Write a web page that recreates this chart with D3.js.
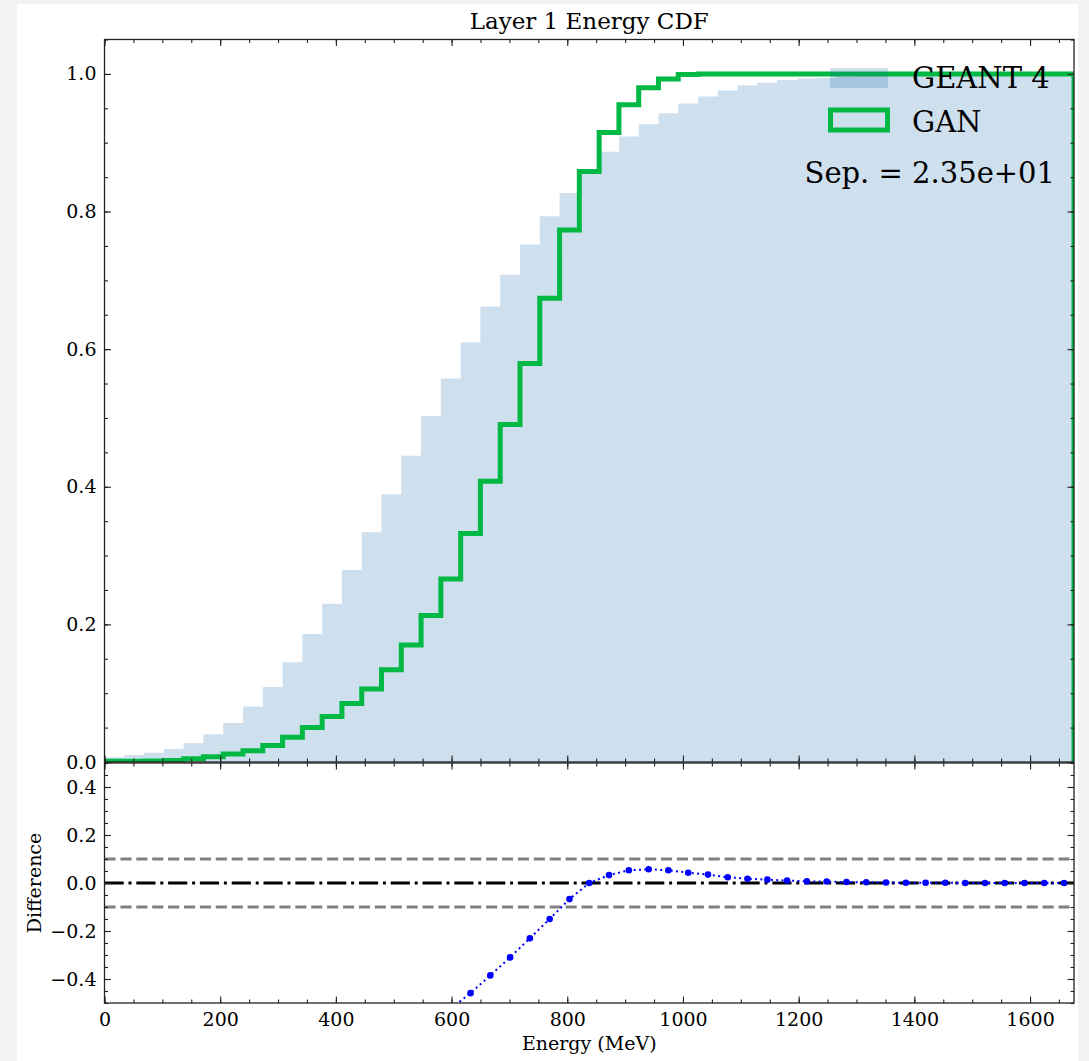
<!DOCTYPE html>
<html>
<head>
<meta charset="utf-8">
<script src="https://cdn.jsdelivr.net/npm/d3@7"></script>
<style>
  html, body { margin: 0; padding: 0; background: #f2f2f2; }
  svg { display: block; }
  text { font-family: "DejaVu Serif", serif; fill: #000; }
</style>
</head>
<body>
<svg class="canvas" width="1089" height="1061"></svg>
<script>
"use strict";

// histogram range (MeV) and number of equal bins
const energyMax = 1676;
const nBins = 49;

// cumulative fraction per bin
const geant4Cdf = [
  0.0068, 0.0102, 0.0135, 0.0189, 0.0272, 0.0403, 0.0568, 0.0805, 0.109, 0.145,
  0.186, 0.230, 0.279, 0.334, 0.389, 0.445, 0.503, 0.5575, 0.610, 0.662,
  0.708, 0.752, 0.793, 0.827, 0.858, 0.887, 0.909, 0.927, 0.943, 0.957,
  0.967, 0.976, 0.983, 0.987, 0.991, 0.993, 0.994, 0.996, 0.997, 0.998,
  0.999, 0.999, 0.999, 1.0, 1.0, 1.0, 1.0, 1.0, 1.0
];
const ganCdf = [
  0.001, 0.0012, 0.0015, 0.002, 0.0048, 0.0078, 0.0116, 0.0165, 0.0238, 0.036,
  0.050, 0.066, 0.085, 0.106, 0.134, 0.170, 0.213, 0.266, 0.332, 0.408,
  0.4906, 0.579, 0.674, 0.773, 0.858, 0.915, 0.955, 0.980, 0.9927, 0.999,
  1.0, 1.0, 1.0, 1.0, 1.0, 1.0, 1.0, 1.0, 1.0, 1.0,
  1.0, 1.0, 1.0, 1.0, 1.0, 1.0, 1.0, 1.0, 1.0
];
// relative difference per bin (GAN vs GEANT 4)
const difference = [
  -0.78, -0.85, -0.89, -0.92, -0.82, -0.81, -0.80, -0.80, -0.78, -0.75,
  -0.73, -0.71, -0.70, -0.68, -0.66, -0.62, -0.58, -0.523, -0.459, -0.385,
  -0.31, -0.23, -0.15, -0.067, 0.0, 0.033, 0.053, 0.057, 0.053, 0.043,
  0.035, 0.024, 0.018, 0.014, 0.010, 0.007, 0.006, 0.004, 0.003, 0.002,
  0.001, 0.001, 0.001, 0.0, 0.0, 0.0, 0.0, 0.0, 0.0
];

const xTicks = [0, 200, 400, 600, 800, 1000, 1200, 1400, 1600];
const yTicksTop = [0.0, 0.2, 0.4, 0.6, 0.8, 1.0];
const yTicksBottom = [-0.4, -0.2, 0.0, 0.2, 0.4];
const bandLevels = [-0.1, 0.1];
const seriesNames = ["GEANT 4", "GAN"];
const sepText = "Sep. = 2.35e+01";

const blue = "#0C5DA5";
const green = "#00B945";

function render() {
  const svg = d3.select(".canvas");
  const left = 104.5, right = 1074;
  const topY0 = 39.5, topY1 = 762;
  const botY0 = 763, botY1 = 1003;

  svg.append("rect").attr("x", 17).attr("y", 4).attr("width", 1061).attr("height", 1057).attr("fill", "#fff");

  const x = d3.scaleLinear().domain([0, energyMax]).range([left, right]);
  const yTop = d3.scaleLinear().domain([0, 1.05]).range([topY1, topY0]);
  const yBot = d3.scaleLinear().domain([-0.5, 0.5]).range([botY1, botY0]);

  const edges = d3.range(nBins + 1).map(i => i * energyMax / nBins);
  const centers = d3.range(nBins).map(i => (edges[i] + edges[i + 1]) / 2);

  const defs = svg.append("defs");
  defs.append("clipPath").attr("id", "clipTop").append("rect")
    .attr("x", left).attr("y", topY0).attr("width", right - left).attr("height", topY1 - topY0);
  defs.append("clipPath").attr("id", "clipBot").append("rect")
    .attr("x", left).attr("y", botY0).attr("width", right - left).attr("height", botY1 - botY0);

  // ---- top panel
  const gTop = svg.append("g").attr("clip-path", "url(#clipTop)");
  const geantPts = geant4Cdf.map((v, i) => [edges[i], v]).concat([[edges[nBins], geant4Cdf[nBins - 1]]]);
  gTop.append("path")
    .attr("d", d3.area().curve(d3.curveStepAfter).x(d => x(d[0])).y0(yTop(0)).y1(d => yTop(d[1]))(geantPts))
    .attr("fill", blue).attr("fill-opacity", 0.2);

  const ganPts = [[edges[0], 0]]
    .concat(ganCdf.map((v, i) => [edges[i], v]))
    .concat([[edges[nBins], ganCdf[nBins - 1]], [edges[nBins], 0]]);
  gTop.append("path")
    .attr("d", d3.line().curve(d3.curveStepAfter).x(d => x(d[0])).y(d => yTop(d[1]))(ganPts))
    .attr("fill", "none").attr("stroke", green).attr("stroke-width", 5)
    .attr("stroke-linejoin", "miter");

  // legend
  const lg = svg.append("g");
  lg.append("rect").attr("x", 830).attr("y", 68).attr("width", 58).attr("height", 20)
    .attr("fill", blue).attr("fill-opacity", 0.2);
  lg.append("rect").attr("x", 830.5).attr("y", 110).attr("width", 57).attr("height", 20)
    .attr("fill", "none").attr("stroke", green).attr("stroke-width", 5);
  lg.append("text").attr("x", 912).attr("y", 88).attr("font-size", 29).text(seriesNames[0]);
  lg.append("text").attr("x", 912).attr("y", 132).attr("font-size", 29).text(seriesNames[1]);
  svg.append("text").attr("x", 1055).attr("y", 183).attr("text-anchor", "end")
    .attr("font-size", 29).text(sepText);

  // ---- bottom panel
  const gBot = svg.append("g").attr("clip-path", "url(#clipBot)");
  bandLevels.forEach(v => {
    gBot.append("line").attr("x1", left).attr("x2", right).attr("y1", yBot(v)).attr("y2", yBot(v))
      .attr("stroke", "#808080").attr("stroke-width", 3).attr("stroke-dasharray", "11.1,4.8");
  });
  gBot.append("line").attr("x1", left).attr("x2", right).attr("y1", yBot(0)).attr("y2", yBot(0))
    .attr("stroke", "#000").attr("stroke-width", 3).attr("stroke-dasharray", "19.2,4.8,3,4.8");

  gBot.append("path")
    .attr("d", d3.line().x((d, i) => x(centers[i])).y(d => yBot(d))(difference))
    .attr("fill", "none").attr("stroke", "#0000ff").attr("stroke-width", 2)
    .attr("stroke-dasharray", "2,3.3");
  gBot.selectAll("circle").data(difference).enter().append("circle")
    .attr("cx", (d, i) => x(centers[i])).attr("cy", d => yBot(d)).attr("r", 3.3)
    .attr("fill", "#0000ff");

  // ---- axes (inward ticks on every side)
  const xMinor = d3.range(0, energyMax + 1, 50);
  const fmt1 = d3.format(".1f");
  function minus(v) { return fmt1(v).replace("-", "\u2212"); }

  function axisSet(y0, y1, yScale, yTicks, yMinor, showX) {
    const g = svg.append("g").attr("class", "axes");
    g.append("g").attr("transform", `translate(0,${y1})`)
      .call(d3.axisBottom(x).tickValues(xTicks).tickSize(-6.5).tickPadding(10)
        .tickFormat(showX ? d3.format("d") : ""));
    g.append("g").attr("transform", `translate(0,${y1})`)
      .call(d3.axisBottom(x).tickValues(xMinor).tickSize(-3.5).tickFormat(""));
    g.append("g").attr("transform", `translate(0,${y0})`)
      .call(d3.axisTop(x).tickValues(xTicks).tickSize(-6.5).tickFormat(""));
    g.append("g").attr("transform", `translate(0,${y0})`)
      .call(d3.axisTop(x).tickValues(xMinor).tickSize(-3.5).tickFormat(""));
    g.append("g").attr("transform", `translate(${left},0)`)
      .call(d3.axisLeft(yScale).tickValues(yTicks).tickSize(-6.5).tickPadding(8).tickFormat(minus));
    g.append("g").attr("transform", `translate(${left},0)`)
      .call(d3.axisLeft(yScale).tickValues(yMinor).tickSize(-3.5).tickFormat(""));
    g.append("g").attr("transform", `translate(${right},0)`)
      .call(d3.axisRight(yScale).tickValues(yTicks).tickSize(-6.5).tickFormat(""));
    g.append("g").attr("transform", `translate(${right},0)`)
      .call(d3.axisRight(yScale).tickValues(yMinor).tickSize(-3.5).tickFormat(""));
    g.selectAll(".domain").remove();
    g.selectAll(".tick line").attr("stroke", "#222").attr("stroke-width", 1.1);
    g.selectAll(".tick text").attr("font-family", "DejaVu Serif").attr("font-size", 19).attr("fill", "#000");
    g.append("rect").attr("x", left).attr("y", y0).attr("width", right - left).attr("height", y1 - y0)
      .attr("fill", "none").attr("stroke", "#222").attr("stroke-width", 1.3);
  }

  axisSet(topY0, topY1, yTop, yTicksTop, d3.range(0, 1.051, 0.05), false);
  axisSet(botY0, botY1, yBot, yTicksBottom, d3.range(-0.5, 0.501, 0.05), true);

  // titles
  svg.append("text").attr("x", (left + right) / 2).attr("y", 29).attr("text-anchor", "middle")
    .attr("font-size", 23).text("Layer 1 Energy CDF");
  svg.append("text").attr("x", (left + right) / 2).attr("y", 1050).attr("text-anchor", "middle")
    .attr("font-size", 19).text("Energy (MeV)");
  svg.append("text").attr("transform", `translate(41,${(botY0 + botY1) / 2}) rotate(-90)`)
    .attr("text-anchor", "middle").attr("font-size", 19).text("Difference");
}

window.onload = render;
</script>
</body>
</html>
